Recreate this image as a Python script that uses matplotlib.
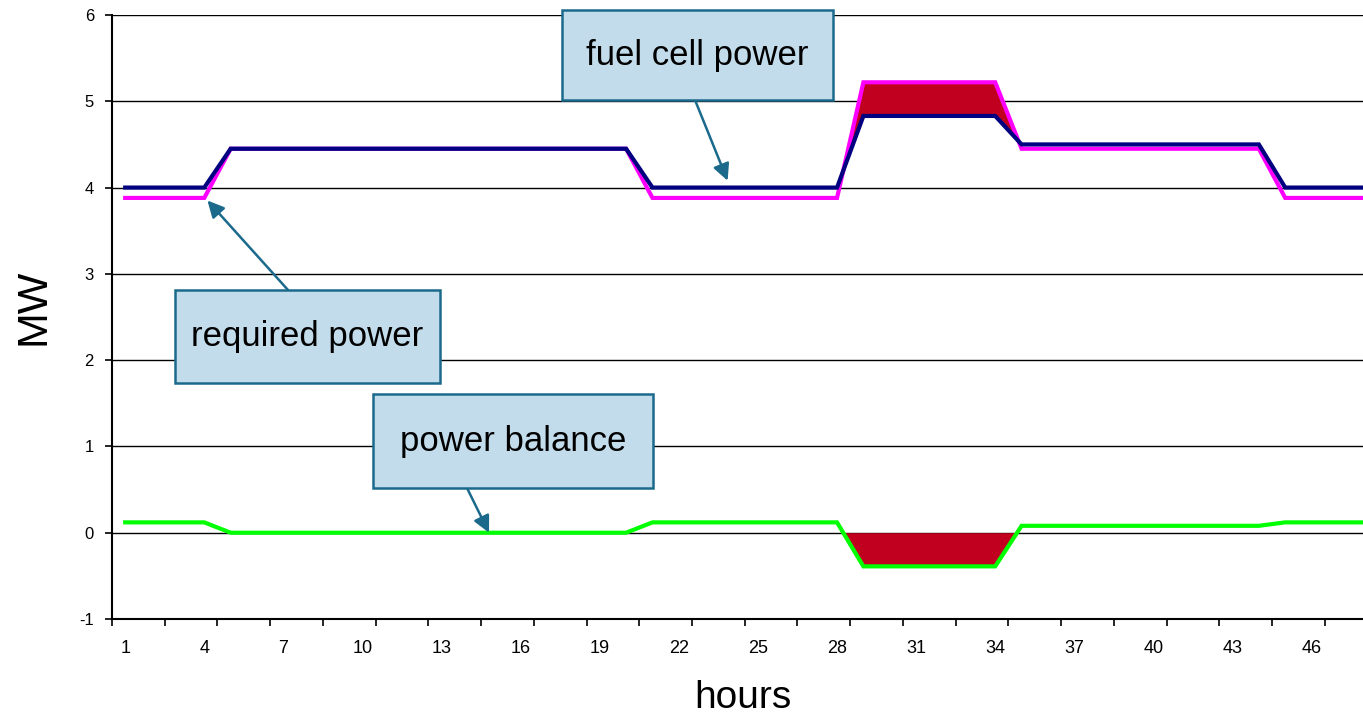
import matplotlib
matplotlib.use("Agg")
import matplotlib.pyplot as plt
from matplotlib import font_manager
from matplotlib.patches import Rectangle
import numpy as np

# ---- data ----
hours = list(range(1, 49))
required_power = [3.88, 3.88, 3.88, 3.88,
                  4.45, 4.45, 4.45, 4.45, 4.45, 4.45, 4.45, 4.45, 4.45, 4.45, 4.45, 4.45, 4.45, 4.45, 4.45, 4.45,
                  3.88, 3.88, 3.88, 3.88, 3.88, 3.88, 3.88, 3.88,
                  5.22, 5.22, 5.22, 5.22, 5.22, 5.22,
                  4.45, 4.45, 4.45, 4.45, 4.45, 4.45, 4.45, 4.45, 4.45, 4.45,
                  3.88, 3.88, 3.88, 3.88]
fuel_cell_power = [4.0, 4.0, 4.0, 4.0,
                   4.45, 4.45, 4.45, 4.45, 4.45, 4.45, 4.45, 4.45, 4.45, 4.45, 4.45, 4.45, 4.45, 4.45, 4.45, 4.45,
                   4.0, 4.0, 4.0, 4.0, 4.0, 4.0, 4.0, 4.0,
                   4.83, 4.83, 4.83, 4.83, 4.83, 4.83,
                   4.5, 4.5, 4.5, 4.5, 4.5, 4.5, 4.5, 4.5, 4.5, 4.5,
                   4.0, 4.0, 4.0, 4.0]
power_balance = [0.12, 0.12, 0.12, 0.12,
                 0.0, 0.0, 0.0, 0.0, 0.0, 0.0, 0.0, 0.0, 0.0, 0.0, 0.0, 0.0, 0.0, 0.0, 0.0, 0.0,
                 0.12, 0.12, 0.12, 0.12, 0.12, 0.12, 0.12, 0.12,
                 -0.39, -0.39, -0.39, -0.39, -0.39, -0.39,
                 0.08, 0.08, 0.08, 0.08, 0.08, 0.08, 0.08, 0.08, 0.08, 0.08,
                 0.12, 0.12, 0.12, 0.12]
x_tick_labels = [1, 4, 7, 10, 13, 16, 19, 22, 25, 28, 31, 34, 37, 40, 43, 46]
y_ticks = [-1, 0, 1, 2, 3, 4, 5, 6]

# ---- fonts ----
names = {f.name for f in font_manager.fontManager.ttflist}
narrow = 'Liberation Sans Narrow' if 'Liberation Sans Narrow' in names else 'Liberation Sans'
plt.rcParams['font.family'] = ['Liberation Sans', 'DejaVu Sans']

W, H = 1363, 719
fig = plt.figure(figsize=(W / 100, H / 100), dpi=100)
ax = fig.add_axes([112 / W, (H - 619) / H, (W - 112) / W, 604 / H])

hrs = np.array(hours)
req = np.array(required_power)
fc = np.array(fuel_cell_power)
bal = np.array(power_balance)

red = '#C0001E'
ax.fill_between(hrs, fc, req, where=req > fc + 0.1, interpolate=True, color=red, lw=0, zorder=2)
ax.fill_between(hrs, bal, 0, where=bal < -0.01, interpolate=True, color=red, lw=0, zorder=2)

ax.plot(hrs, req, color='#FF00FF', lw=3.0, zorder=3, solid_joinstyle='miter')
ax.plot(hrs, fc, color='#000080', lw=3.0, zorder=4, solid_joinstyle='miter')
ax.plot(hrs, bal, color='#00FF00', lw=3.0, zorder=4, solid_joinstyle='miter')

ax.set_xlim(0.5, 47.95)
ax.set_ylim(-1, 6)
ax.set_yticks(y_ticks)
ax.set_yticklabels([str(v) for v in y_ticks], fontsize=12)
ax.grid(axis='y', color='black', lw=1.0, zorder=1)
ax.set_axisbelow(True)

ax.set_xticks(x_tick_labels)
ax.set_xticklabels([str(v) for v in x_tick_labels], fontsize=13)
ax.set_xticks(np.arange(0.5, 48.5, 2), minor=True)
ax.tick_params(axis='x', which='major', length=0, pad=15)
ax.tick_params(axis='x', which='minor', length=5, width=1.2, direction='out')
ax.tick_params(axis='y', which='major', length=5, width=1.2, direction='out', pad=8)

for s in ['top', 'right']:
    ax.spines[s].set_visible(False)
for s in ['left', 'bottom']:
    ax.spines[s].set_linewidth(1.5)
    ax.spines[s].set_zorder(5)

fig.text(33 / W, 1 - 307 / H, 'MW', rotation=90, ha='center', va='center',
         fontsize=31, family=[narrow, 'DejaVu Sans'])
fig.text(743 / W, 1 - 698 / H, 'hours', ha='center', va='center',
         fontsize=28, family=[narrow, 'DejaVu Sans'])

edge = '#1B6A8C'
face = '#C3DCEB'
boxes = [
    ('fuel cell power', 562, 10, 833, 100, (695, 100), (23.85, 4.08)),
    ('required power', 175, 290, 440, 383, (288, 290), (4.12, 3.85)),
    ('power balance', 373, 394, 653, 488, (467, 488), (14.8, 0.0)),
]
for label, x0, y0, x1, y1, start, tip in boxes:
    rect = Rectangle((x0 / W, 1 - y1 / H), (x1 - x0) / W, (y1 - y0) / H,
                     transform=fig.transFigure, facecolor=face, edgecolor=edge,
                     lw=1.8, zorder=10)
    fig.add_artist(rect)
    fig.text((x0 + x1) / 2 / W, 1 - (y0 + y1) / 2 / H, label, ha='center', va='center',
             fontsize=30 if narrow != 'Liberation Sans' else 25,
             family=[narrow, 'DejaVu Sans'], zorder=11)
    ax.annotate('', xy=tip, xycoords='data',
                xytext=(start[0], H - start[1]), textcoords='figure pixels',
                arrowprops=dict(arrowstyle='-|>', color=edge, lw=1.8,
                                mutation_scale=25, shrinkA=0, shrinkB=0),
                zorder=9, annotation_clip=False)

fig.savefig('out.png', dpi=100)
